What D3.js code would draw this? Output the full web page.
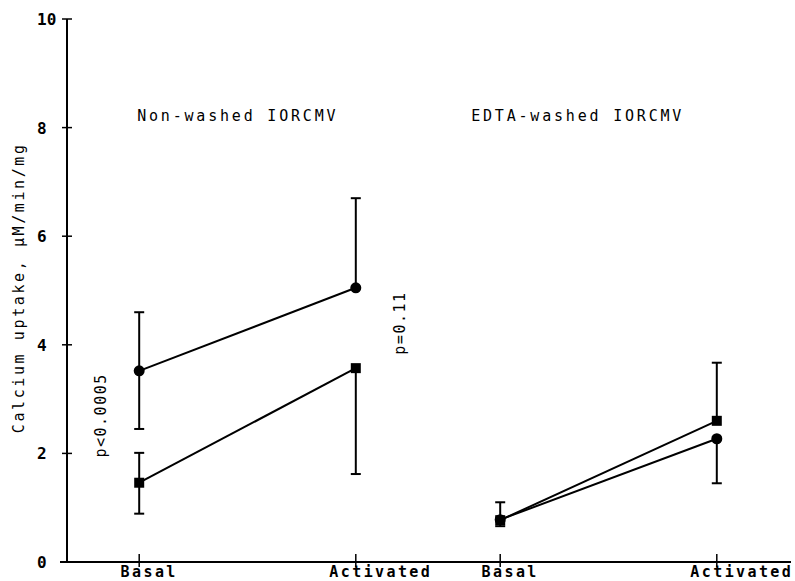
<!DOCTYPE html>
<html>
<head>
<meta charset="utf-8">
<script src="https://cdn.jsdelivr.net/npm/d3@7"></script>
<style>
  body { margin: 0; background: #fff; }
  text { font-family: "DejaVu Sans Mono", monospace; fill: #000; }
</style>
</head>
<body>
<div id="chart"></div>
<script>
// Data
const groups = ["Non-washed IORCMV", "EDTA-washed IORCMV"];
const conditions = ["Basal", "Activated"];
const yTicks = [0, 2, 4, 6, 8, 10];

// point order: (group 0, Basal), (group 0, Activated), (group 1, Basal), (group 1, Activated)
const circleMean = [3.52, 5.05, 0.78, 2.27];
const circleHigh = [4.60, 6.70, null, null];
const circleLow  = [2.45, null, 0.66, 1.45];
const squareMean = [1.46, 3.57, 0.77, 2.60];
const squareHigh = [2.01, null, 1.10, 3.67];
const squareLow  = [0.89, 1.62, null, null];

const pLabels = ["p<0.0005", "p=0.11"];
const pValuePos = [2.7, 4.4];

// Dimensions
const width = 795, height = 581;
const margin = { top: 19, right: 6, bottom: 19, left: 67 };

const svg = d3.select("#chart")
    .append("svg")
    .attr("width", width)
    .attr("height", height)
    .style("background-color", "#fff");

// Scales
const xGroup = d3.scaleBand()
    .domain(groups)
    .range([margin.left, width - margin.right])
    .paddingInner(0);

const xCond = d3.scalePoint()
    .domain(conditions)
    .range([0, xGroup.bandwidth()])
    .padding(1 / 3);

const y = d3.scaleLinear()
    .domain([0, 10])
    .range([height - margin.bottom, margin.top]);

const points = [];
groups.forEach((g, gi) => conditions.forEach((c, ci) => {
    const i = gi * 2 + ci;
    points.push({
        group: g, cond: c, x: xGroup(g) + xCond(c),
        circle: { mean: circleMean[i], hi: circleHigh[i], lo: circleLow[i] },
        square: { mean: squareMean[i], hi: squareHigh[i], lo: squareLow[i] }
    });
}));

const ink = "#000";

// Y axis
svg.append("line")
    .attr("x1", margin.left).attr("x2", margin.left)
    .attr("y1", y(0)).attr("y2", y(10))
    .attr("stroke", ink).attr("stroke-width", 2);

svg.selectAll(".ytick")
    .data(yTicks)
    .enter()
    .append("line")
    .attr("x1", margin.left - 5).attr("x2", margin.left + 5)
    .attr("y1", d => y(d)).attr("y2", d => y(d))
    .attr("stroke", ink).attr("stroke-width", 1.5);

svg.selectAll(".ylabel")
    .data(yTicks)
    .enter()
    .append("text")
    .attr("x", margin.left - 30)
    .attr("y", d => y(d) + 6)
    .text(d => d)
    .style("font-size", "16px")
    .style("font-weight", "bold");

svg.append("text")
    .attr("transform", `translate(24, ${y(5.05)}) rotate(-90)`)
    .attr("text-anchor", "middle")
    .text("Calcium uptake, \u00b5M/min/mg")
    .style("font-size", "15px")
    .style("letter-spacing", "2.6px");

// X axis
svg.append("line")
    .attr("x1", margin.left - 7).attr("x2", width - 4)
    .attr("y1", y(0)).attr("y2", y(0))
    .attr("stroke", ink).attr("stroke-width", 2);

svg.selectAll(".xtick")
    .data(points)
    .enter()
    .append("line")
    .attr("x1", d => d.x).attr("x2", d => d.x)
    .attr("y1", y(0) - 8).attr("y2", y(0) + 5)
    .attr("stroke", ink).attr("stroke-width", 1.5);

svg.selectAll(".xlabel")
    .data(points)
    .enter()
    .append("text")
    .attr("x", d => d.x)
    .attr("dx", d => d.cond === "Basal" ? 10 : 25)
    .attr("y", height - 4)
    .attr("text-anchor", "middle")
    .text(d => d.cond)
    .style("font-size", "15px")
    .style("font-weight", "bold")
    .style("letter-spacing", "2.4px");

// Group titles
const titleDx = [-2, -29];
svg.selectAll(".title")
    .data(groups)
    .enter()
    .append("text")
    .attr("x", (d, i) => xGroup(d) + xCond("Basal") + titleDx[i])
    .attr("y", y(8.12))
    .text(d => d)
    .style("font-size", "15px")
    .style("letter-spacing", "2.8px");

// Connecting lines
const line = key => d3.line().x(d => d.x).y(d => y(d[key].mean));
["circle", "square"].forEach(key => {
    groups.forEach(g => {
        svg.append("path")
            .datum(points.filter(d => d.group === g))
            .attr("d", line(key))
            .attr("fill", "none")
            .attr("stroke", ink)
            .attr("stroke-width", 2);
    });
});

// Error bars
const cap = 5;
["circle", "square"].forEach(key => {
    points.forEach(d => {
        const s = d[key];
        [s.hi, s.lo].forEach(v => {
            if (v == null) return;
            svg.append("line")
                .attr("x1", d.x).attr("x2", d.x)
                .attr("y1", y(s.mean)).attr("y2", y(v))
                .attr("stroke", ink).attr("stroke-width", 2);
            svg.append("line")
                .attr("x1", d.x - cap).attr("x2", d.x + cap)
                .attr("y1", y(v)).attr("y2", y(v))
                .attr("stroke", ink).attr("stroke-width", 2);
        });
    });
});

// Markers
svg.selectAll(".circ")
    .data(points)
    .enter()
    .append("circle")
    .attr("cx", d => d.x)
    .attr("cy", d => y(d.circle.mean))
    .attr("r", 5.5)
    .attr("fill", ink);

svg.selectAll(".sq")
    .data(points)
    .enter()
    .append("rect")
    .attr("x", d => d.x - 5)
    .attr("y", d => y(d.square.mean) - 5)
    .attr("width", 10)
    .attr("height", 10)
    .attr("fill", ink);

// p-values
const pX = [points[0].x - 33, points[1].x + 49];
svg.selectAll(".pval")
    .data(pLabels)
    .enter()
    .append("text")
    .attr("transform", (d, i) => `translate(${pX[i]}, ${y(pValuePos[i])}) rotate(-90)`)
    .attr("text-anchor", "middle")
    .text(d => d)
    .style("font-size", "15px")
    .style("letter-spacing", "1.5px");
</script>
</body>
</html>
